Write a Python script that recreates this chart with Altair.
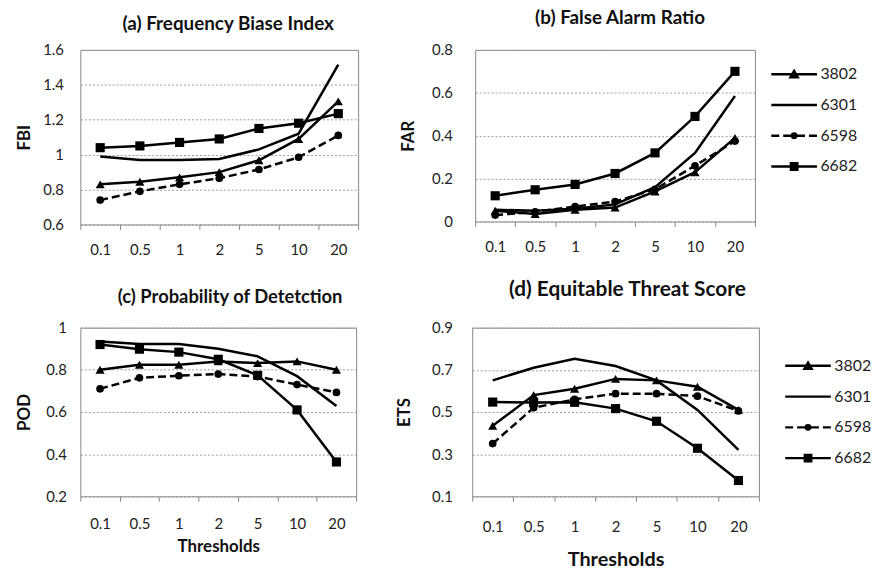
import altair as alt
import pandas as pd

thresholds = ["0.1", "0.5", "1", "2", "5", "10", "20"]
series = ["3802", "6301", "6598", "6682"]

# (a) Frequency Bias Index
fbi_3802 = [0.83, 0.845, 0.87, 0.90, 0.968, 1.09, 1.305]
fbi_6301 = [0.99, 0.97, 0.97, 0.975, 1.03, 1.12, 1.515]
fbi_6598 = [0.74, 0.79, 0.83, 0.865, 0.915, 0.985, 1.11]
fbi_6682 = [1.04, 1.05, 1.07, 1.09, 1.15, 1.18, 1.235]

# (b) False Alarm Ratio
far_3802 = [0.05, 0.035, 0.055, 0.065, 0.14, 0.23, 0.39]
far_6301 = [0.055, 0.05, 0.06, 0.08, 0.16, 0.32, 0.585]
far_6598 = [0.03, 0.045, 0.07, 0.093, 0.15, 0.26, 0.375]
far_6682 = [0.12, 0.148, 0.173, 0.224, 0.32, 0.49, 0.70]

# (c) Probability of Detection
pod_3802 = [0.80, 0.824, 0.824, 0.84, 0.832, 0.84, 0.80]
pod_6301 = [0.934, 0.923, 0.923, 0.90, 0.864, 0.77, 0.628]
pod_6598 = [0.71, 0.762, 0.772, 0.78, 0.768, 0.73, 0.693]
pod_6682 = [0.92, 0.898, 0.884, 0.85, 0.774, 0.61, 0.363]

# (d) Equitable Threat Score
ets_3802 = [0.435, 0.58, 0.61, 0.657, 0.65, 0.62, 0.51]
ets_6301 = [0.65, 0.71, 0.752, 0.718, 0.65, 0.51, 0.32]
ets_6598 = [0.35, 0.52, 0.56, 0.587, 0.587, 0.575, 0.505]
ets_6682 = [0.547, 0.545, 0.546, 0.516, 0.456, 0.328, 0.175]

FONT = "Lato"
markers = {"3802": ("triangle-up", 85), "6598": ("circle", 60), "6682": ("square", 85)}

# legend glyphs: line segment + marker (stroked, drawn so they look filled)
legend_paths = [
    "M-2.3,0H2.3M-0.36,0.3L0,-0.32L0.36,0.3ZM-0.25,0.15H0.25M-0.12,-0.05H0.12",
    "M-2.3,0H2.3",
    "M-2.3,0H-1.5M-1.1,0H-0.3M0.3,0H1.1M1.5,0H2.3M-0.22,0A0.22,0.22,0,1,0,0.22,0A0.22,0.22,0,1,0,-0.22,0ZM-0.12,0H0.12",
    "M-2.3,0H2.3M-0.32,-0.32H0.32V0.32H-0.32ZM-0.32,-0.1H0.32M-0.32,0.1H0.32",
]


def long_df(cols):
    rows = []
    for s, vals in zip(series, cols):
        for t, v in zip(thresholds, vals):
            rows.append({"s": s, "thr": t, "v": v})
    return pd.DataFrame(rows)


def panel(cols, title, ytitle, ydom, yticks, w, h, ylab_pad, yext, ytitle_pad,
          xlab_pad, xtitle=None, xtitle_pad=8, legend_xy=None, title_size=19,
          title_offset=14, title_dx=0, xtitle_size=17):
    df = long_df(cols)
    base = alt.Chart(df)
    x = alt.X(
        "thr:N", sort=thresholds,
        scale=alt.Scale(type="band", paddingInner=0, paddingOuter=0),
        bandPosition=0.5,
        axis=alt.Axis(title=xtitle, tickBand="extent", labelAngle=0, grid=False,
                      domain=False, ticks=True, tickSize=5, tickColor="#888",
                      labelPadding=xlab_pad, titlePadding=xtitle_pad,
                      titleFontSize=xtitle_size),
    )
    y = alt.Y(
        "v:Q", scale=alt.Scale(domain=ydom, nice=False, zero=False),
        axis=alt.Axis(title=ytitle, values=yticks, format="~g", ticks=False, domain=False,
                      grid=True, gridDash=[2, 2], gridColor="#999", labelPadding=ylab_pad,
                      minExtent=yext, maxExtent=yext, titlePadding=ytitle_pad),
    )
    layers = []
    for s in series:
        sub = base.transform_filter(alt.datum.s == s)
        kw = dict(color="black", strokeWidth=2.5)
        if s == "6598":
            kw["strokeDash"] = [8, 4]
        layers.append(sub.mark_line(**kw).encode(x=x, y=y))
        if s in markers:
            shp, sz = markers[s]
            layers.append(sub.mark_point(shape=shp, size=sz, filled=True, color="black",
                                         opacity=1).encode(x=x, y=y))
    if legend_xy is not None:
        leg = alt.Legend(title=None, orient="none", legendX=legend_xy[0], legendY=legend_xy[1],
                         symbolSize=400, labelFont=FONT, labelFontSize=16, labelColor="#222",
                         labelOffset=15, rowPadding=11, symbolStrokeWidth=2.5,
                         symbolStrokeColor="black")
        dummy = base.transform_filter("false").mark_point(
            filled=False, color="black", strokeWidth=2.5, opacity=1
        ).encode(
            shape=alt.Shape("s:N", scale=alt.Scale(domain=series, range=legend_paths), legend=leg),
        )
        layers.append(dummy)
    return alt.layer(*layers).properties(
        width=w, height=h,
        title=alt.TitleParams(title, font=FONT, fontSize=title_size, fontWeight="bold",
                              color="#111", offset=title_offset, anchor="middle", dx=title_dx),
    )


pa = panel([fbi_3802, fbi_6301, fbi_6598, fbi_6682], "(a) Frequency Biase Index", "FBI",
           [0.6, 1.6], [0.6, 0.8, 1.0, 1.2, 1.4, 1.6], 280, 176, 17, 37, 10, 13,
           title_offset=9, title_dx=9)
pb = panel([far_3802, far_6301, far_6598, far_6682], "(b) False Alarm Ratio", "FAR",
           [0, 0.8], [0, 0.2, 0.4, 0.6, 0.8], 282, 173, 23, 43, 15, 13,
           legend_xy=(310, 13), title_offset=15, title_dx=5)
pc = panel([pod_3802, pod_6301, pod_6598, pod_6682], "(c) Probability of Detetction", "POD",
           [0.2, 1.0], [0.2, 0.4, 0.6, 0.8, 1.0], 278, 170, 14, 34, 13, 15,
           xtitle="Thresholds", xtitle_pad=8, title_size=18.5, title_dx=12)
pd_ = panel([ets_3802, ets_6301, ets_6598, ets_6682], "(d) Equitable Threat Score", "ETS",
            [0.1, 0.9], [0.1, 0.3, 0.5, 0.7, 0.9], 289, 170, 20, 40, 19, 18,
            xtitle="Thresholds", xtitle_pad=16, legend_xy=(327, 27), title_offset=21,
            title_size=21, title_dx=12, xtitle_size=20)

row1 = alt.hconcat(pa, pb, spacing=40).resolve_scale(shape="independent")
row2 = alt.hconcat(pc, pd_, spacing=38).resolve_scale(shape="independent")

chart = alt.vconcat(row1, row2, spacing=20).resolve_scale(
    shape="independent"
).properties(
    padding={"left": 15, "top": 6, "right": 0, "bottom": 0},
    background="white",
).configure_view(
    stroke="#888", strokeWidth=1
).configure_axis(
    labelFont=FONT, labelFontSize=15, labelColor="#222",
    titleFont=FONT, titleFontSize=17, titleFontWeight="bold", titleColor="#111",
)

chart.save("out.html", embed_options={"renderer": "svg", "actions": False})
